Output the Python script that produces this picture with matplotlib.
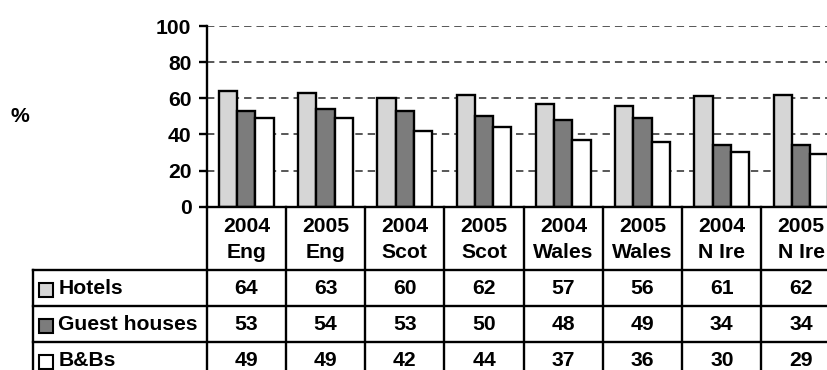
import matplotlib
matplotlib.use("Agg")
import matplotlib.pyplot as plt
import matplotlib.transforms as mtransforms
import numpy as np

# -----------------------------------------------------
# DATA
# -----------------------------------------------------
years = ["2004", "2005", "2004", "2005", "2004", "2005", "2004", "2005"]
regions = ["Eng", "Eng", "Scot", "Scot", "Wales", "Wales", "N Ire", "N Ire"]
series_names = ["Hotels", "Guest houses", "B&Bs"]
hotels = [64, 63, 60, 62, 57, 56, 61, 62]
guest_houses = [53, 54, 53, 50, 48, 49, 34, 34]
bnbs = [49, 49, 42, 44, 37, 36, 30, 29]
y_ticks = [0, 20, 40, 60, 80, 100]

series = [hotels, guest_houses, bnbs]
fills = ["#d6d6d6", "#7c7c7c", "#ffffff"]

plt.rcParams["font.family"] = ["Liberation Sans", "DejaVu Sans"]
plt.rcParams["font.weight"] = "bold"
plt.rcParams["lines.scale_dashes"] = False
FS = 15.2

# -----------------------------------------------------
# LAYOUT (pixels, figure is 827 x 370)
# -----------------------------------------------------
W_PX, H_PX = 827, 370
AX_LEFT, AX_TOP, AX_BOTTOM = 206.7, 26.0, 206.7
CAT_W = 79.25
AX_RIGHT = AX_LEFT + CAT_W * len(years)
HEADER_H = 63.3
ROW_H = 36.0
LABEL_COL_LEFT = 33.0
LW = 1.7

fig = plt.figure(figsize=(W_PX / 100, H_PX / 100), dpi=100)
ax = fig.add_axes([
    AX_LEFT / W_PX,
    (H_PX - AX_BOTTOM) / H_PX,
    (AX_RIGHT - AX_LEFT) / W_PX,
    (AX_BOTTOM - AX_TOP) / H_PX,
])

x = np.arange(len(years))
bar_w = 0.23
for k, (vals, fc) in enumerate(zip(series, fills)):
    ax.bar(x + (k - 1) * bar_w, vals, bar_w, color=fc,
           edgecolor="black", linewidth=LW, zorder=3)

ax.set_xlim(-0.5, len(years) - 0.5)
ax.set_ylim(0, 100)
ax.set_yticks(y_ticks)
ax.set_yticklabels([str(t) for t in y_ticks], fontsize=FS, fontweight="bold")
ax.set_xticks([])
ax.tick_params(axis="y", direction="out", length=5.5, width=LW, pad=5.5)

for s in ["top", "right"]:
    ax.spines[s].set_visible(False)
for s in ["left", "bottom"]:
    ax.spines[s].set_linewidth(LW)
    ax.spines[s].set_zorder(4)

for t in y_ticks[1:]:
    ax.axhline(t, color="#2a2a2a", linewidth=1.1,
               linestyle=(0, (5.3, 3.6)), zorder=1)

fig.text(20 / W_PX, 1 - 116 / H_PX, "%", fontsize=FS, fontweight="bold",
         ha="center", va="center")

# -----------------------------------------------------
# DATA TABLE UNDER THE AXIS
# -----------------------------------------------------
trans = mtransforms.blended_transform_factory(ax.transData, ax.transAxes)
ax_h = AX_BOTTOM - AX_TOP


def ypos(px_below_axis):
    return -px_below_axis / ax_h


def xpos(px):
    return -0.5 + (px - AX_LEFT) / CAT_W


line_kw = dict(color="black", linewidth=LW, transform=trans, clip_on=False,
               solid_capstyle="projecting")
row_edges = [HEADER_H + ROW_H * r for r in range(len(series) + 1)]
table_bottom = row_edges[-1]

# horizontal rules
for edge in row_edges:
    ax.plot([xpos(LABEL_COL_LEFT), len(years) - 0.5],
            [ypos(edge), ypos(edge)], **line_kw)

# vertical rules
ax.plot([xpos(LABEL_COL_LEFT)] * 2, [ypos(HEADER_H), ypos(table_bottom)], **line_kw)
for c in range(len(years) + 1):
    ax.plot([c - 0.5, c - 0.5], [0, ypos(table_bottom)], **line_kw)

# header labels
for i, (yr, rg) in enumerate(zip(years, regions)):
    ax.text(i, ypos(HEADER_H / 2 + 1), f"{yr}\n{rg}", transform=trans,
            ha="center", va="center", fontsize=FS, fontweight="bold",
            linespacing=1.45, clip_on=False)

# rows: legend key, name, values
for r, (name, vals, fc) in enumerate(zip(series_names, series, fills)):
    yc = ypos(row_edges[r] + ROW_H / 2)
    ax.plot([xpos(46.5)], [yc + ypos(1.5)], marker="s", markersize=9.8,
            markerfacecolor=fc, markeredgecolor="black", markeredgewidth=1.5,
            transform=trans, clip_on=False)
    ax.text(xpos(58.5), yc, name, transform=trans, ha="left", va="center",
            fontsize=FS, fontweight="bold", clip_on=False)
    for i, v in enumerate(vals):
        ax.text(i, yc, str(v), transform=trans, ha="center", va="center",
                fontsize=FS, fontweight="bold", clip_on=False)

fig.savefig("out.png", dpi=100)
